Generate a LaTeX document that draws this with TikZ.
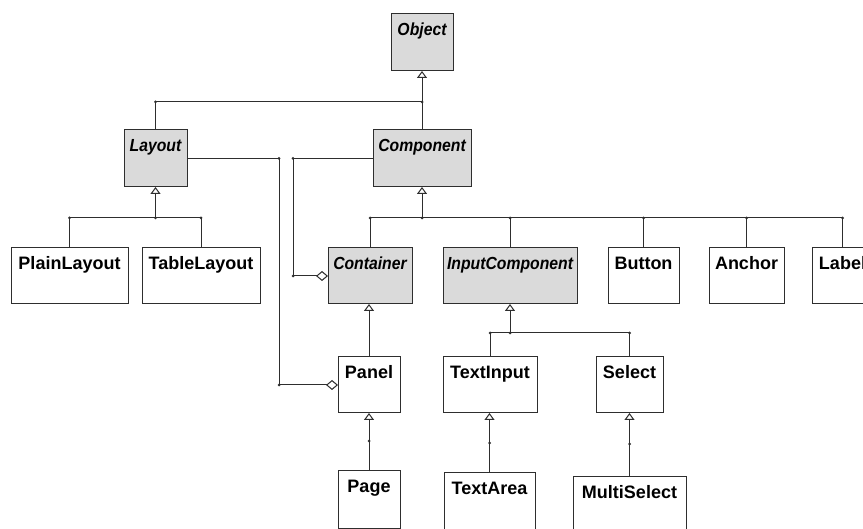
\documentclass[tikz,border=0pt]{standalone}
\usepackage{fontspec}
\setmainfont{Liberation Sans}
\newfontfamily\clsitfont[FakeStretch=0.9]{Liberation Sans}
\usetikzlibrary{arrows.meta}
\definecolor{linec}{HTML}{2E2E2E}
\definecolor{absfill}{HTML}{DADADA}
\newcommand{\clsA}[6]{%
  \node[absbox, minimum width={#4-#2}, minimum height={#5-#3}] (#1) at ({(#2+#4)/2},{(#3+#5)/2}) {};
  \node[ittxt] (#1t) at ([yshift=-21.5pt]#1.north) {#6};}
\newcommand{\clsC}[6]{%
  \node[concbox, minimum width={#4-#2}, minimum height={#5-#3}] (#1) at ({(#2+#4)/2},{(#3+#5)/2}) {};
  \node[rmtxt] (#1t) at ([yshift=-22pt]#1.north) {#6};}
\begin{document}
\begin{tikzpicture}[x=1pt,y=-1pt,
  concbox/.style={draw=linec, line width=1pt, inner sep=0pt, outer sep=0pt, fill=white},
  absbox/.style={concbox, fill=absfill},
  rmtxt/.style={anchor=base, inner sep=0pt, font=\fontsize{18}{20}\selectfont\bfseries},
  ittxt/.style={anchor=base, inner sep=0pt, font=\clsitfont\fontsize{17.5}{20}\selectfont\bfseries\itshape},
  conn/.style={draw=linec, line width=1pt},
  inh/.style={conn, -{Triangle[fill=white, width=10pt, length=7pt]}},
  agg/.style={conn, -{Diamond[fill=white, width=10pt, length=12pt]}},
]
\useasboundingbox (0,0) rectangle (863,529);
\clip (0,0) rectangle (863,529);
\fill[white] (0,0) rectangle (863,529);

\clsA{obj}{391}{14}{453}{71}{Object}
\clsA{lay}{124}{130}{187}{187}{Layout}
\clsA{comp}{373}{130}{471}{187}{Component}
\clsC{plain}{11}{248}{128}{304}{PlainLayout}
\clsC{table}{142}{248}{260}{304}{TableLayout}
\clsA{cont}{328}{248}{412}{304}{Container}
\clsA{inp}{443}{248}{577}{304}{InputComponent}
\clsC{btn}{608}{248}{679}{304}{Button}
\clsC{anc}{709}{248}{784}{304}{Anchor}
\clsC{lab}{812}{248}{873}{304}{Label}
\clsC{panel}{338}{357}{400}{413}{Panel}
\clsC{tin}{443}{357}{537}{413}{TextInput}
\clsC{sel}{596}{357}{663}{413}{Select}
\clsC{page}{338}{471}{400}{528}{Page}
\clsC{tarea}{444}{473}{535}{545}{TextArea}
\clsC{msel}{573}{477}{686}{545}{MultiSelect}

% Object generalization
\coordinate (j0) at (422,102);
\coordinate (j0l) at (155.5,102);
\draw[conn] (j0l) -- (j0);
\draw[inh] (j0) -- (obj.south);
\draw[conn] (j0l) -- (lay.north);
\draw[conn] (j0) -- (comp.north);

% Layout generalization
\coordinate (j1) at (155.5,218);
\draw[inh] (j1) -- (lay.south);
\draw[conn] (plain.north |- j1) -- (table.north |- j1);
\draw[conn] (plain.north |- j1) -- (plain.north);
\draw[conn] (table.north |- j1) -- (table.north);

% Component generalization
\coordinate (j2) at (422,218);
\draw[inh] (j2) -- (comp.south);
\draw[conn] (cont.north |- j2) -- (lab.north |- j2);
\foreach \n in {cont,inp,btn,anc,lab} \draw[conn] (\n.north |- j2) -- (\n.north);

% Aggregations
\coordinate (a1) at (293,158.5);
\coordinate (a2) at (293,276);
\draw[agg] (comp.west) -- (a1) -- (a2) -- (cont.west);
\coordinate (b1) at (279,158.5);
\coordinate (b2) at (279,385);
\draw[agg] (lay.east) -- (b1) -- (b2) -- (panel.west);

% Container -> Panel
\draw[inh] (panel.north) -- (panel.north |- cont.south);
% Panel -> Page
\coordinate (d1) at (369,441);
\draw[inh] (page.north) -- (page.north |- panel.south);

% InputComponent generalization
\coordinate (j3) at (510,333);
\draw[inh] (j3) -- (inp.south);
\draw[conn] (tin.north |- j3) -- (sel.north |- j3);
\draw[conn] (tin.north |- j3) -- (tin.north);
\draw[conn] (sel.north |- j3) -- (sel.north);

% TextInput -> TextArea, Select -> MultiSelect
\coordinate (d2) at (489.5,443);
\coordinate (d3) at (629.5,444);
\draw[inh] (tarea.north) -- (tarea.north |- tin.south);
\draw[inh] (msel.north) -- (msel.north |- sel.south);

% junction dots
\foreach \p in {j0,j0l,j2,a1,a2,b1,b2,j3,d2,d3}
  \fill[linec] (\p) circle (1.5pt);
\foreach \p in {plain.north |- j1, j1, table.north |- j1,
                cont.north |- j2, inp.north |- j2, btn.north |- j2, anc.north |- j2, lab.north |- j2,
                tin.north |- j3, sel.north |- j3, page.north |- d1}
  \fill[linec] (\p) circle (1.5pt);
\end{tikzpicture}
\end{document}
